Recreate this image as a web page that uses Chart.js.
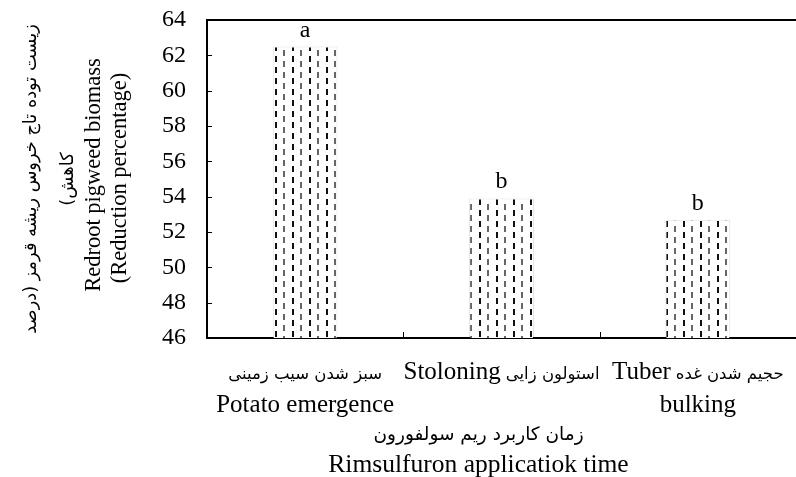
<!DOCTYPE html>
<html><head><meta charset="utf-8">
<script src="https://cdn.jsdelivr.net/npm/chart.js@4.4.1/dist/chart.umd.min.js"></script>
<style>html,body{margin:0;padding:0;background:#fff}</style>
</head><body>
<canvas id="c" width="796" height="477"></canvas>
<script>
// ---- data ----
const categories = ["Potato emergence", "Stoloning", "Tuber bulking"];
const labelsFa = ["سبز شدن سیب زمینی", "استولون زایی", "حجیم شدن غده"];
const labelsEn1 = ["", "Stoloning", "Tuber"];
const labelsEn2 = ["Potato emergence", "", "bulking"];
const values = [62.5, 53.9, 52.7];
const letters = ["a", "b", "b"];
const yTicks = [46, 48, 50, 52, 54, 56, 58, 60, 62, 64];
const yTitleFa = ["زیست توده تاج خروس ریشه قرمز (درصد", "(کاهش"];
const yTitleEn = ["Redroot pigweed biomass", "(Reduction percentage)"];
const xTitleFa = "زمان کاربرد ریم سولفورون";
const xTitleEn = "Rimsulfuron applicatiok time";

const SERIF = '"Liberation Serif", serif';
const FA = '"DejaVu Sans", sans-serif';

const pattern = (function () {
  const p = document.createElement('canvas');
  p.width = 17; p.height = 11;
  const g = p.getContext('2d');
  g.fillStyle = '#ffffff'; g.fillRect(0, 0, 17, 11);
  g.fillStyle = '#111111'; g.fillRect(3, 1, 2, 6);
  g.fillStyle = '#666666'; g.fillRect(11, 6, 2, 5); g.fillRect(11, 0, 2, 1);
  return document.getElementById('c').getContext('2d').createPattern(p, 'repeat');
})();

const decor = {
  id: 'decor',
  afterDraw(chart) {
    const {ctx, chartArea: a, scales: {x, y}} = chart;
    ctx.save();
    ctx.strokeStyle = '#000';
    ctx.fillStyle = '#000';
    // top frame line
    ctx.lineWidth = 2;
    ctx.beginPath(); ctx.moveTo(a.left - 1, a.top); ctx.lineTo(a.right + 2, a.top); ctx.stroke();
    // inner y ticks
    ctx.lineWidth = 1;
    y.ticks.forEach(t => {
      const py = Math.round(y.getPixelForValue(t.value)) + 0.5;
      ctx.beginPath(); ctx.moveTo(a.left, py); ctx.lineTo(a.left + 5, py); ctx.stroke();
    });
    // inner x ticks at category boundaries
    for (let i = 0; i < categories.length - 1; i++) {
      const px = Math.round((x.getPixelForValue(i) + x.getPixelForValue(i + 1)) / 2) + 0.5;
      ctx.beginPath(); ctx.moveTo(px, a.bottom); ctx.lineTo(px, a.bottom - 6); ctx.stroke();
    }
    // significance letters
    const meta = chart.getDatasetMeta(0);
    ctx.font = '24px ' + SERIF;
    ctx.textAlign = 'left';
    ctx.textBaseline = 'alphabetic';
    meta.data.forEach((bar, i) => {
      const w = ctx.measureText(letters[i]).width;
      ctx.fillText(letters[i], bar.x - w / 2, bar.y - 10);
    });
    // category labels (bilingual)
    const fEn = '25px ' + SERIF, fFa = '16.5px ' + FA;
    const gap = 5;
    categories.forEach((c, i) => {
      const cx = x.getPixelForValue(i);
      ctx.font = fEn; const wEn = labelsEn1[i] ? ctx.measureText(labelsEn1[i]).width : 0;
      ctx.font = fFa; const wFa = ctx.measureText(labelsFa[i]).width;
      const total = wEn + (wEn ? gap : 0) + wFa;
      let sx = cx - total / 2;
      const base1 = a.bottom + 41;
      if (wEn) { ctx.font = fEn; ctx.fillText(labelsEn1[i], sx, base1); sx += wEn + gap; }
      ctx.font = fFa; ctx.fillText(labelsFa[i], sx, base1);
      if (labelsEn2[i]) {
        ctx.font = fEn;
        const w2 = ctx.measureText(labelsEn2[i]).width;
        ctx.fillText(labelsEn2[i], cx - w2 / 2, a.bottom + 74);
      }
    });
    // x title
    const tcx = (a.left + a.right) / 2 - 23;
    ctx.font = '18.5px ' + FA;
    let w = ctx.measureText(xTitleFa).width;
    ctx.fillText(xTitleFa, tcx - w / 2, a.bottom + 102);
    ctx.font = '25.5px ' + SERIF;
    w = ctx.measureText(xTitleEn).width;
    ctx.fillText(xTitleEn, tcx - w / 2, a.bottom + 134);
    // y title (rotated)
    const tcy = (a.top + a.bottom) / 2;
    const ys = [
      {t: yTitleFa[0], f: '17.8px ' + FA, x: 36, dy: 0},
      {t: yTitleFa[1], f: '18px ' + FA, x: 73, dy: 0},
      {t: yTitleEn[0], f: '22.5px ' + SERIF, x: 100, dy: -4},
      {t: yTitleEn[1], f: '22.5px ' + SERIF, x: 126, dy: -1}
    ];
    ys.forEach(o => {
      ctx.save();
      ctx.translate(y.left + o.x, tcy + o.dy);
      ctx.rotate(-Math.PI / 2);
      ctx.font = o.f;
      const ww = ctx.measureText(o.t).width;
      ctx.fillText(o.t, -ww / 2, 0);
      ctx.restore();
    });
    ctx.restore();
  }
};

new Chart(document.getElementById('c'), {
  type: 'bar',
  data: {
    labels: categories,
    datasets: [{
      data: values,
      backgroundColor: pattern,
      borderColor: 'rgba(0,0,0,0.12)',
      borderWidth: 1,
      barPercentage: 0.33,
      categoryPercentage: 1
    }]
  },
  options: {
    responsive: false,
    animation: false,
    devicePixelRatio: 1,
    layout: {padding: {top: 20, right: -4, left: 0, bottom: 0}},
    plugins: {legend: {display: false}, tooltip: {enabled: false}},
    scales: {
      x: {
        offset: true,
        grid: {display: false, drawTicks: false},
        border: {display: true, color: '#000', width: 2},
        ticks: {display: false},
        afterFit(s) { s.height = 139; s.paddingLeft = 0; s.paddingRight = 0; }
      },
      y: {
        min: 46, max: 64,
        afterBuildTicks(s) { s.ticks = yTicks.map(v => ({value: v})); },
        grid: {display: false, drawTicks: false},
        border: {display: true, color: '#000', width: 2},
        ticks: {color: '#000', font: {family: SERIF, size: 24}, padding: 21},
        afterFit(s) { s.width = 207; s.paddingTop = 0; s.paddingBottom = 0; }
      }
    }
  },
  plugins: [decor]
});
</script>
</body></html>
